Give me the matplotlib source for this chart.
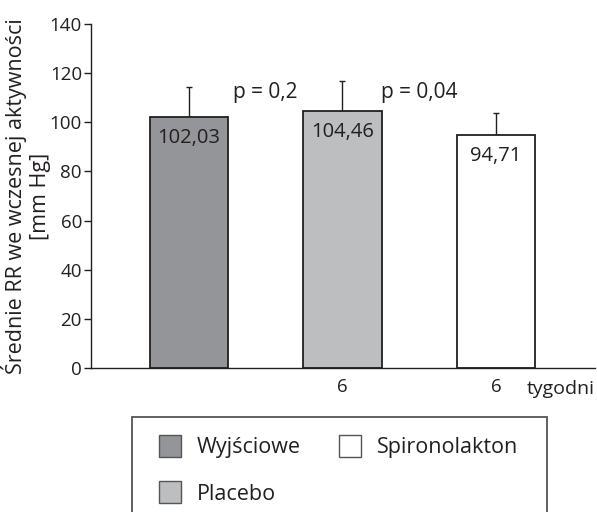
import matplotlib.pyplot as plt
from matplotlib.patches import Rectangle

plt.rcParams["font.family"] = ["Open Sans", "DejaVu Sans"]

GROUPS = ["Wyjściowe", "Placebo", "Spironolakton"]
MEANS = [102.03, 104.46, 94.71]
ERRORS = [12.5, 12.5, 9.0]
VALUE_LABELS = ["102,03", "104,46", "94,71"]
WEEK_LABELS = ["", "6", "6"]
P_LABELS = ["p = 0,2", "p = 0,04"]
P_POS = [0.5, 1.5]
P_Y = 112

COLORS = ["#939598", "#bcbec0", "#ffffff"]
EDGE = "#231f20"
TXT = "#231f20"

W, H = 597, 512
fig = plt.figure(figsize=(W / 100, H / 100), dpi=100)
ax = fig.add_axes([91 / W, 1 - 368 / H, (595 - 91) / W, (368 - 24) / H])

x = list(range(len(MEANS)))
ax.bar(x, MEANS, width=0.51, color=COLORS, edgecolor=EDGE, linewidth=1.3, zorder=2)
ax.errorbar(x, MEANS, yerr=[[0] * len(ERRORS), ERRORS], fmt="none",
            ecolor=EDGE, elinewidth=1.0, capsize=2.5, capthick=1.0, zorder=1)

for xi, m, lab in zip(x, MEANS, VALUE_LABELS):
    ax.annotate(lab, (xi, m), textcoords="offset points", xytext=(0, -15),
                ha="center", va="center", fontsize=14.5, color=TXT)

for px, lab in zip(P_POS, P_LABELS):
    ax.text(px, P_Y, lab, ha="center", va="center", fontsize=15, color=TXT)

ax.set_xlim(-0.638, 2.645)
ax.set_ylim(0, 140)
ax.set_yticks(range(0, 141, 20))
ax.set_xticks(x)
ax.set_xticklabels(WEEK_LABELS)
ax.tick_params(axis="x", length=0, pad=7, labelsize=13.5, labelcolor=TXT)
ax.tick_params(axis="y", length=5, width=1.0, pad=1.5, labelsize=13.5,
               labelcolor=TXT, color=EDGE)
ax.text(2.2, -0.035, "tygodni", transform=ax.get_xaxis_transform(),
        ha="left", va="top", fontsize=14, color=TXT)

for s in ("top", "right"):
    ax.spines[s].set_visible(False)
for s in ("left", "bottom"):
    ax.spines[s].set_color(EDGE)
    ax.spines[s].set_linewidth(1.0)

ax.set_ylabel("Średnie RR we wczesnej aktywności\n[mm Hg]", fontsize=15.5,
              color=TXT, linespacing=1.2)
ax.yaxis.set_label_coords(-0.079, 0.5)

# legend box drawn by hand, it runs off the bottom of the figure
fig.add_artist(Rectangle((132 / W, -0.05), (547 - 132) / W, 0.05 + 1 - 417 / H,
                         transform=fig.transFigure, facecolor="none",
                         edgecolor="#555555", linewidth=1.3))

LEG_POS = [(159, 435), (159, 481), (339, 435)]
for (lx, ly), name, col in zip(LEG_POS, GROUPS, COLORS):
    fig.add_artist(Rectangle((lx / W, 1 - (ly + 22) / H), 22 / W, 22 / H,
                             transform=fig.transFigure, facecolor=col,
                             edgecolor="#555555", linewidth=1.0))
    fig.text((lx + 38) / W, 1 - (ly + 13) / H, name, ha="left", va="center",
             fontsize=15.5, color=TXT)

plt.savefig("out.png", dpi=100)
